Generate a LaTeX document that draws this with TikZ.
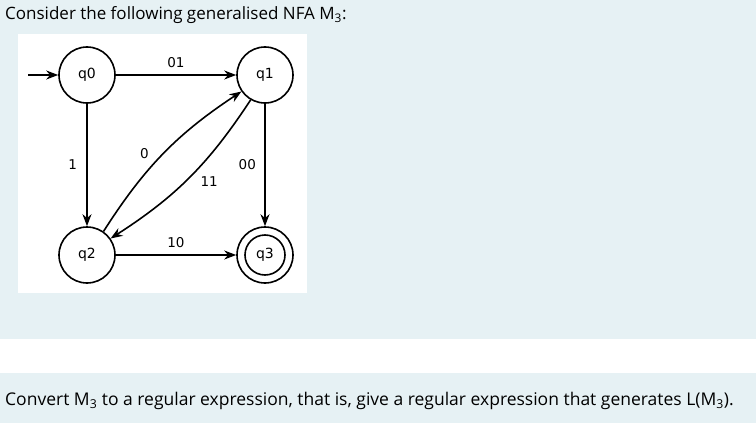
\documentclass[tikz,border=0pt]{standalone}
\usepackage{fontspec}
\setmainfont{Open Sans}
\newfontfamily\djvfont{DejaVu Sans}
\usetikzlibrary{arrows.meta}
\definecolor{bgc}{HTML}{E6F1F4}
\begin{document}
\begin{tikzpicture}[x=1pt,y=-1pt,
  st/.style={circle,draw,line width=1.6pt,minimum size=56pt,inner sep=0pt,font=\djvfont\fontsize{14}{16}\selectfont},
  tr/.style={-{Stealth[length=12pt,width=9pt]},line width=1.6pt},
  lb/.style={font=\djvfont\fontsize{13.5}{16}\selectfont}]
\fill[bgc] (0,0) rectangle (756,423);
\fill[white] (0,339) rectangle (756,373);
\fill[white] (18,34) rectangle (307,293);
\useasboundingbox (0,0) rectangle (756,423);
\node[anchor=west,inner sep=0pt,font=\fontsize{17}{19}\selectfont] (t) at (5,15) {Consider the following generalised NFA M\textsubscript{3}:};
\node[anchor=west,inner sep=0pt,font=\fontsize{17.5}{20}\selectfont] (b) at (5,401) {Convert M\textsubscript{3} to a regular expression, that is, give a regular expression that generates L(M\textsubscript{3}).};
\node[st] (q0) at (87,75) {q0};
\node[st] (q1) at (265,75) {q1};
\node[st] (q2) at (87,255) {q2};
\node[st] (q3) at (265,255) {};
\node[circle,draw,line width=1.6pt,minimum size=40pt,inner sep=0pt,font=\djvfont\fontsize{14}{16}\selectfont] (q3i) at (265,255) {q3};
\coordinate (s) at (28,75);
\draw[tr] (s) -- (q0);
\draw[tr] (q0) -- node[lb,above=3pt] {01} (q1);
\draw[tr] (q0) -- node[lb,left=6pt] {1} (q2);
\draw[tr] (q1) -- node[lb,left=5pt] {00} (q3);
\draw[tr] (q2) -- node[lb,above=3pt] {10} (q3);
\draw[tr] (q2.55) to[bend left=12] node[lb,pos=0.42,above left=1pt] {0} (q1.215);
\draw[tr] (q1.240) to[bend left=12] node[lb,pos=0.45,below right=1pt] {11} (q2.35);
\end{tikzpicture}
\end{document}
